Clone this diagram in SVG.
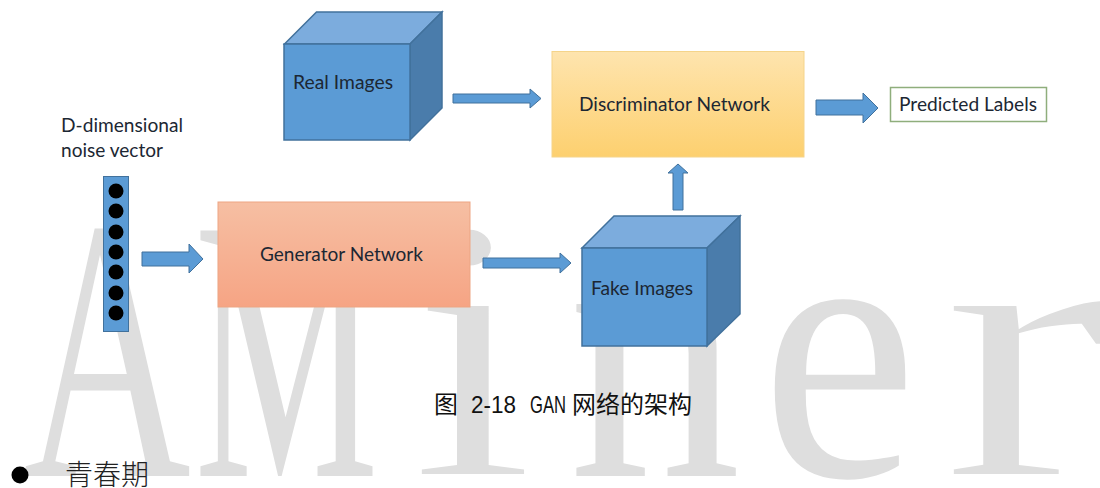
<svg xmlns="http://www.w3.org/2000/svg" width="1100" height="488" viewBox="0 0 1100 488">
<style>
.lbl{font-family:"Lato","Noto Sans",sans-serif;font-size:19.500px;fill:#1c2733}
.front{fill:#5b9bd5;stroke:#41719c;stroke-width:1.500}
.top{fill:#7cacdd;stroke:#41719c;stroke-width:1.500}
.side{fill:#4a7cab;stroke:#41719c;stroke-width:1.500}
.arrow{fill:#5b9bd5;stroke:#41719c;stroke-width:1}
.dot{fill:#000}
.cap{font-family:"Noto Sans CJK SC","Liberation Sans",sans-serif;font-size:24px;fill:#111}
.capl{font-family:"Liberation Sans",sans-serif;font-size:24px;fill:#111}
.wm{font-family:"Liberation Serif",serif;font-size:375px;fill:#dedede}
.thin{stroke:#fff;stroke-width:4px}
</style>
<defs>
<linearGradient id="gg" x1="0" y1="0" x2="0" y2="1"><stop offset="0" stop-color="#f6bfa3"/><stop offset="1" stop-color="#f6a484"/></linearGradient>
<linearGradient id="yg" x1="0" y1="0" x2="0" y2="1"><stop offset="0" stop-color="#fee4ae"/><stop offset="1" stop-color="#fdd06f"/></linearGradient>
</defs>
<g id="watermark" aria-label="AMiner">
<text class="wm" transform="translate(23.500 476) scale(.618 1)">A</text>
<text class="wm" transform="translate(194.500 476) scale(.552 1)">M</text>
<text class="wm thin" transform="translate(410 476) scale(1.200 1)">i</text>
<text class="wm" transform="translate(568.500 476) scale(.920 1)">n</text>
<text class="wm" transform="translate(761 476) scale(.940 1)">e</text>
<text class="wm thin" transform="translate(941 476) scale(1.350 1)">r</text>
</g>
<g id="noise-label"><text class="lbl" x="61" y="132" textLength="122" lengthAdjust="spacingAndGlyphs">D-dimensional</text><text class="lbl" x="61" y="157" textLength="102" lengthAdjust="spacingAndGlyphs">noise vector</text></g>
<g id="noise-vector">
<rect x="103.500" y="176.500" width="25" height="155" fill="#5b9bd5" stroke="#41719c" stroke-width="1"/>
<circle class="dot" cx="116" cy="191" r="7.500"/><circle class="dot" cx="116" cy="211" r="7.500"/><circle class="dot" cx="116" cy="232" r="7.500"/><circle class="dot" cx="116" cy="252" r="7.500"/><circle class="dot" cx="116" cy="272" r="7.500"/><circle class="dot" cx="116" cy="293" r="7.500"/><circle class="dot" cx="116" cy="313" r="7.500"/>
</g>
<g id="real-images">
<polygon class="top" points="284.500,44 316.500,12 442,12 410,44"/>
<polygon class="side" points="410,44 442,12 442,108 410,140"/>
<rect class="front" x="284" y="44" width="126" height="96"/>
<text class="lbl" x="293" y="89" textLength="100" lengthAdjust="spacingAndGlyphs">Real Images</text>
</g>
<g id="fake-images">
<polygon class="top" points="582,248 614,216 740,216 707,248"/>
<polygon class="side" points="707,248 740,216 740,314 707,346"/>
<rect class="front" x="582" y="248" width="125" height="98"/>
<text class="lbl" x="591" y="295" textLength="102" lengthAdjust="spacingAndGlyphs">Fake Images</text>
</g>
<g id="generator">
<rect x="218" y="202" width="252" height="105" fill="url(#gg)" stroke="#eda583" stroke-width="1"/>
<text class="lbl" x="260" y="261" textLength="163" lengthAdjust="spacingAndGlyphs">Generator Network</text>
</g>
<g id="discriminator">
<rect x="552" y="51.500" width="252" height="105.500" fill="url(#yg)" stroke="#f5d48a" stroke-width="1"/>
<text class="lbl" x="579" y="111" textLength="191" lengthAdjust="spacingAndGlyphs">Discriminator Network</text>
</g>
<g id="predicted-labels">
<rect x="890.500" y="87.500" width="156" height="34" fill="#fff" stroke="#8fae7c" stroke-width="1.500"/>
<text class="lbl" x="899" y="111" textLength="138" lengthAdjust="spacingAndGlyphs">Predicted Labels</text>
</g>
<g id="connectors">
<polygon class="arrow" points="142,252 189,252 189,244 203,259 189,273 189,266 142,266"/>
<polygon class="arrow" points="453,94 530,94 530,89 541,98.500 530,108 530,103 453,103"/>
<polygon class="arrow" points="483,258 560,258 560,253 571,263 560,273 560,268 483,268"/>
<polygon class="arrow" points="673,210 673,173 668,173 678,164 688,173 683,173 683,210"/>
<polygon class="arrow" points="816,100 863,100 863,93 878,108 863,123 863,115 816,115"/>
</g>
<g id="caption">
<text class="cap" x="434" y="413">图</text>
<text class="capl" x="471" y="413" textLength="45" lengthAdjust="spacingAndGlyphs">2-18</text>
<text class="capl" x="530" y="413" textLength="36" lengthAdjust="spacingAndGlyphs">GAN</text>
<text class="cap" x="572" y="413">网络的架构</text>
</g>
<g id="bullet">
<ellipse cx="20" cy="475" rx="8.500" ry="8.500" fill="#000"/>
<text x="65" y="485" font-family="Noto Sans CJK SC,sans-serif" font-weight="300" font-size="28" fill="#222">青春期</text>
</g>
</svg>
